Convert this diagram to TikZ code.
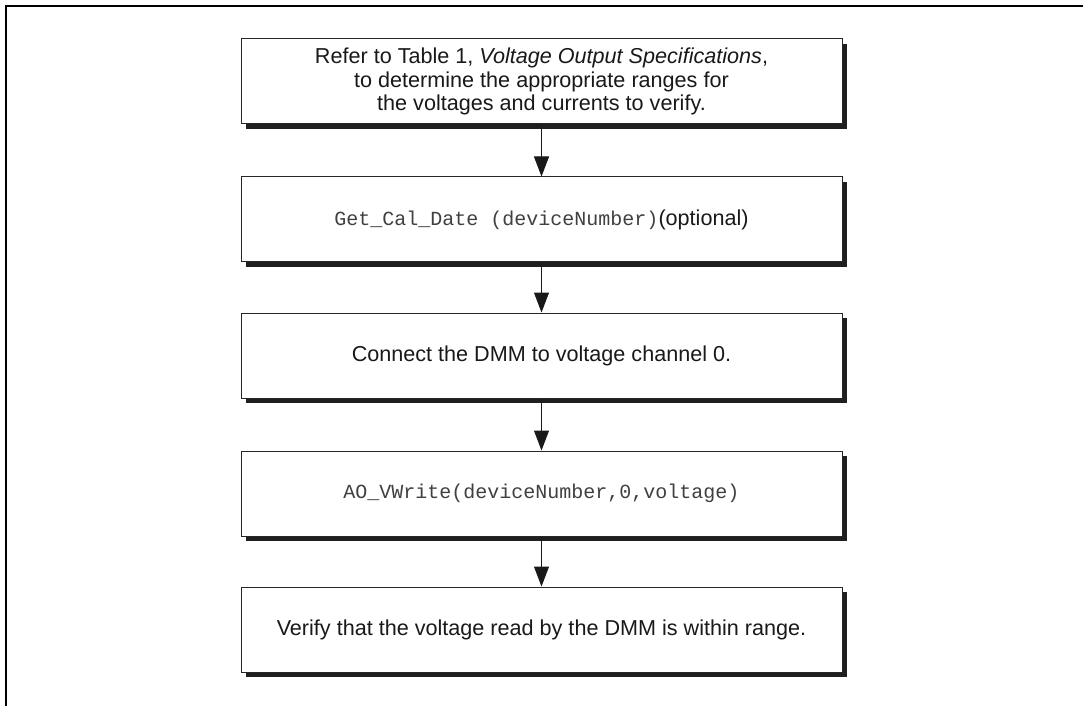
\documentclass[tikz,border=0pt]{standalone}
\usepackage{fontspec}
\setmainfont{Liberation Sans}
\setmonofont{Liberation Mono}
\usetikzlibrary{arrows.meta,shadows}

\tikzset{
	stepbox/.style={draw=black!85, line width=0.5pt, fill=white,
		minimum width=300.5pt, minimum height=42.5pt, align=center,
		text=black!90, font=\fontsize{10.8}{11.6}\selectfont,
		drop shadow={shadow xshift=2.5pt, shadow yshift=-2.5pt, fill=black!88, opacity=1}},
	flow/.style={-{Triangle[length=10pt,width=7.5pt]}, line width=0.5pt, black!90}
}

\begin{document}
\begin{tikzpicture}[x=0.5pt, y=-0.5pt]
			\useasboundingbox (0, 0) rectangle (1083, 706);
			\draw[line width=1pt]	(1083, 6) to (6, 6) to (6, 706);

			\node[stepbox] (refer)		at (541.5, 81.5)	{Refer to Table 1, \textit{Voltage Output Specifications},\\
															to determine the appropriate ranges for\\
															the voltages and currents to verify.};
			\node[stepbox] (caldate)	at (541.5, 219.5)	{{\ttfamily\fontsize{10}{11.5}\selectfont\color{black!75}Get\_Cal\_Date (deviceNumber)}(optional)};
			\node[stepbox] (connect)	at (541.5, 355.5)	{Connect the DMM to voltage channel 0.};
			\node[stepbox] (vwrite)		at (541.5, 493.5)	{{\ttfamily\fontsize{10}{11.5}\selectfont\color{black!75}AO\_VWrite(deviceNumber,0,voltage)}};
			\node[stepbox] (verify)		at (541.5, 629.5)	{Verify that the voltage read by the DMM is within range.};

			\draw[flow]	(refer.south) to (caldate.north);
			\draw[flow]	(caldate.south) to (connect.north);
			\draw[flow]	(connect.south) to (vwrite.north);
			\draw[flow]	(vwrite.south) to (verify.north);
\end{tikzpicture}
\end{document}
